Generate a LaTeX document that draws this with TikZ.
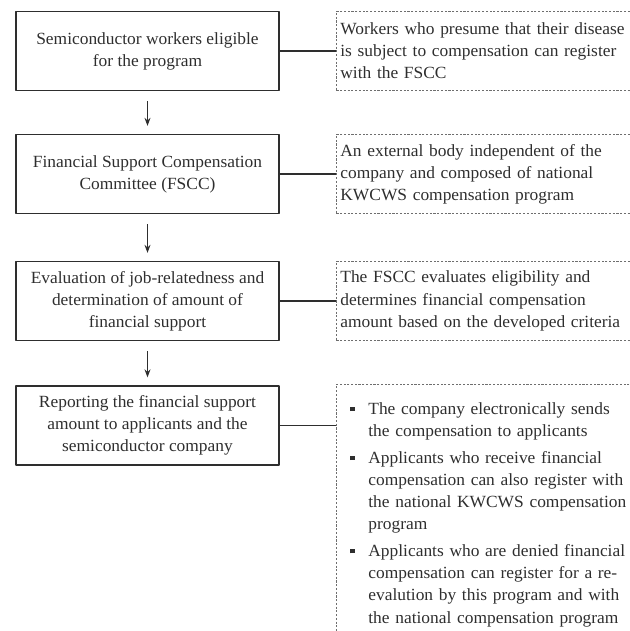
\documentclass[tikz,border=0pt]{standalone}
\usepackage{fontspec}
\setmainfont{Liberation Serif}[FakeStretch=1.02]
\usetikzlibrary{arrows.meta}
\definecolor{inkgray}{HTML}{2E2E2E}
\definecolor{dashgray}{HTML}{6E6E6E}

\begin{document}
\begin{tikzpicture}[x=0.75pt, y=-0.75pt, font=\fontsize{12.8}{16.6}\selectfont, line join=round, >={Stealth[length=6pt,width=4.5pt]}, color=inkgray,
  stepbox/.style={draw=inkgray, line width=1pt, minimum width=197.25pt, minimum height=59.25pt, align=center, inner sep=0pt},
  notebox/.style={draw=dashgray, dash pattern=on 1.6pt off 1.2pt, line width=0.6pt, text width=234pt, align=left, inner xsep=3pt},
  link/.style={line width=1pt},
  flow/.style={->, line width=0.9pt}]
 \useasboundingbox (0,0) rectangle (629,631);
 % steps of the program
 \node[stepbox] (s1) at (147.5,51) {Semiconductor workers eligible\\for the program};
 \node[stepbox] (s2) at (147.5,174) {Financial Support Compensation\\Committee (FSCC)};
 \node[stepbox] (s3) at (147.5,301) {Evaluation of job-relatedness and\\determination of amount of\\financial support};
 \node[stepbox] (s4) at (147.5,425.5) {Reporting the financial support\\amount to applicants and the\\semiconductor company};
 % notes
 \node[notebox, anchor=west, minimum height=59.25pt] (n1) at (336,51) {Workers who presume that their disease\\is subject to compensation can register\\with the FSCC};
 \node[notebox, anchor=west, minimum height=59.25pt] (n2) at (336,174) {An external body independent of the\\company and composed of national\\KWCWS compensation program};
 \node[notebox, anchor=west, minimum height=59.25pt] (n3) at (336,301) {The FSCC evaluates eligibility and\\determines financial compensation\\amount based on the developed criteria};
 \node[notebox, anchor=north west, inner ysep=6pt] (n4) at (336,384) {%
  \begin{list}{\hspace{7.5pt}\rule[2.5pt]{3.2pt}{3.2pt}\hfill}{\setlength{\leftmargin}{21pt}\setlength{\labelwidth}{21pt}\setlength{\labelsep}{0pt}%
   \setlength{\itemsep}{3.5pt}\setlength{\parsep}{0pt}\setlength{\topsep}{0pt}}
  \item The company electronically sends\\the compensation to applicants
  \item Applicants who receive financial\\compensation can also register with\\the national KWCWS compensation\\program
  \item Applicants who are denied financial\\compensation can register for a re-\\evalution by this program and with\\the national compensation program
  \end{list}};
 % connectors
 \foreach \a/\b in {s1/n1,s2/n2,s3/n3}
  \draw[link] (\a.east) -- (\b.west);
 \draw[link] (s4.east) -- (s4.east -| n4.west);
 \foreach \a/\b in {s1/s2,s2/s3,s3/s4}
  \draw[flow] ([yshift=-7.5pt]\a.south) -- ([yshift=6pt]\b.north);
\end{tikzpicture}
\end{document}
